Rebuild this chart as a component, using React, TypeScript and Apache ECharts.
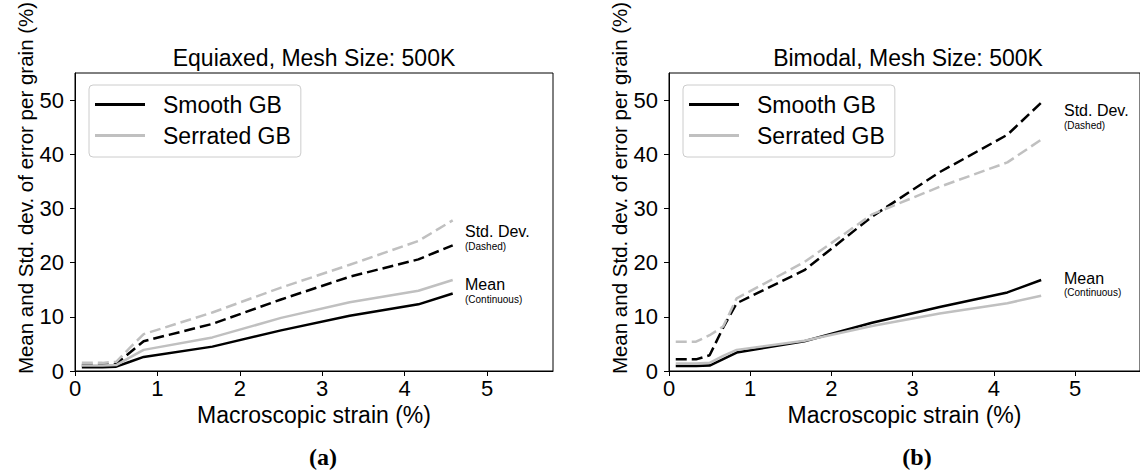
import React, { useEffect, useRef } from "react";
import * as echarts from "echarts";

const strain = [0.083, 0.333, 0.5, 0.667, 0.833, 1.667, 2.5, 3.333, 4.167, 4.583];

const eqSmoothMean = [0.7, 0.7, 0.8, 1.7, 2.6, 4.5, 7.5, 10.2, 12.3, 14.3];
const eqSerratedMean = [1.0, 1.0, 1.1, 2.5, 3.9, 6.2, 9.8, 12.7, 14.8, 16.8];
const eqSmoothStd = [1.1, 1.1, 1.3, 3.4, 5.5, 8.7, 13.2, 17.4, 20.6, 23.2];
const eqSerratedStd = [1.5, 1.5, 1.7, 4.3, 6.8, 10.8, 15.4, 19.6, 24.0, 27.8];

const bmSmoothMean = [0.9, 0.9, 1.0, 2.2, 3.4, 5.5, 8.9, 11.8, 14.5, 16.8];
const bmSerratedMean = [1.4, 1.4, 1.5, 2.8, 3.9, 5.6, 8.3, 10.6, 12.5, 13.9];
const bmSmoothStd = [2.15, 2.15, 2.9, 8.0, 12.5, 18.6, 28.5, 36.7, 43.6, 49.5];
const bmSerratedStd = [5.4, 5.4, 6.6, 8.2, 13.4, 20.1, 28.9, 34.0, 38.5, 42.7];

const xTicks = [0, 1, 2, 3, 4, 5];
const yTicks = [0, 10, 20, 30, 40, 50];

const titles = ["Equiaxed, Mesh Size: 500K", "Bimodal, Mesh Size: 500K"];
const panelTags = ["(a)", "(b)"];
const xName = "Macroscopic strain (%)";
const yName = "Mean and Std. dev. of error per grain (%)";
const legendNames = ["Smooth GB", "Serrated GB"];

const FONT = "'Liberation Sans', Arial, Helvetica, sans-serif";
const BLACK = "#000000";
const GRAY = "#c0c0c0";

const pairs = (ys: number[]) => strain.map((x, i) => [x, ys[i]]);

export default function App() {
  const ref = useRef<HTMLDivElement>(null);
  useEffect(() => {
    if (!ref.current) return;
    const chart = echarts.init(ref.current, undefined, { renderer: "svg" });

    const grids = [
      { left: 75, top: 73, width: 478, height: 298 },
      { left: 669, top: 73, width: 478, height: 298 },
    ];

    const xAxes = grids.map((_, i) => ({
      type: "value",
      gridIndex: i,
      min: 0,
      max: 5.8,
      interval: 1,
      name: xName,
      nameLocation: "middle",
      nameGap: 32,
      nameTextStyle: { fontFamily: FONT, fontSize: 23, color: BLACK },
      axisLine: { show: true, lineStyle: { color: BLACK, width: 1 } },
      axisTick: { show: true, length: 5, inside: false, lineStyle: { color: BLACK }, customValues: xTicks },
      axisLabel: { fontFamily: FONT, fontSize: 22, color: BLACK, margin: 6, customValues: xTicks },
      splitLine: { show: false },
    }));

    const yAxes = grids.map((_, i) => ({
      type: "value",
      gridIndex: i,
      min: 0,
      max: 55,
      interval: 10,
      axisLine: { show: true, lineStyle: { color: BLACK, width: 1 } },
      axisTick: { show: true, length: 5, inside: false, lineStyle: { color: BLACK }, customValues: yTicks },
      axisLabel: { fontFamily: FONT, fontSize: 22, color: BLACK, margin: 11, customValues: yTicks },
      splitLine: { show: false },
    }));

    const mk = (name: string, idx: number, ys: number[], color: string, dashed: boolean) => ({
      type: "line",
      name,
      xAxisIndex: idx,
      yAxisIndex: idx,
      data: pairs(ys),
      symbol: "none",
      showSymbol: false,
      smooth: false,
      lineStyle: { color, width: 2.5, type: dashed ? [11, 5] : "solid", cap: "butt" },
      itemStyle: { color },
      z: dashed ? 2 : 3,
    });

    const series = [
      mk("Smooth GB", 0, eqSmoothMean, BLACK, false),
      mk("Smooth GB std", 0, eqSmoothStd, BLACK, true),
      mk("Serrated GB", 0, eqSerratedMean, GRAY, false),
      mk("Serrated GB std", 0, eqSerratedStd, GRAY, true),
      mk("Smooth GB", 1, bmSmoothMean, BLACK, false),
      mk("Smooth GB std", 1, bmSmoothStd, BLACK, true),
      mk("Serrated GB", 1, bmSerratedMean, GRAY, false),
      mk("Serrated GB std", 1, bmSerratedStd, GRAY, true),
    ];

    const legends = grids.map((g) => ({
      data: legendNames,
      orient: "vertical",
      left: g.left + 14,
      top: 85,
      itemWidth: 50,
      itemHeight: 3,
      itemGap: 8,
      icon: "rect",
      padding: [8, 10, 10, 6],
      borderColor: "#cccccc",
      borderWidth: 1,
      borderRadius: 4,
      backgroundColor: "rgba(255,255,255,0.8)",
      selectedMode: false,
      textStyle: { fontFamily: FONT, fontSize: 23, color: BLACK, padding: [0, 0, 0, 13] },
    }));

    const titleOpts = grids.map((g, i) => ({
      text: titles[i],
      left: g.left + g.width / 2,
      top: 46,
      textAlign: "center",
      padding: 0,
      textStyle: { fontFamily: FONT, fontSize: 23, fontWeight: "normal", color: BLACK },
    }));

    const ann = [
      { std: 231, dashed: 246, mean: 284, cont: 299, left: 465 },
      { std: 110.5, dashed: 125.5, mean: 278.7, cont: 292, left: 1064 },
    ];

    const graphic: any[] = [];
    ann.forEach((a) => {
      graphic.push(
        { type: "text", x: a.left, y: a.std, style: { text: "Std. Dev.", font: `16px ${FONT}`, fill: BLACK, textAlign: "left", textVerticalAlign: "middle" } },
        { type: "text", x: a.left, y: a.dashed, style: { text: "(Dashed)", font: `10px ${FONT}`, fill: BLACK, textAlign: "left", textVerticalAlign: "middle" } },
        { type: "text", x: a.left, y: a.mean, style: { text: "Mean", font: `16px ${FONT}`, fill: BLACK, textAlign: "left", textVerticalAlign: "middle" } },
        { type: "text", x: a.left, y: a.cont, style: { text: "(Continuous)", font: `10px ${FONT}`, fill: BLACK, textAlign: "left", textVerticalAlign: "middle" } }
      );
    });
    [25, 619].forEach((x) => {
      graphic.push({
        type: "text",
        x,
        y: 188,
        rotation: Math.PI / 2,
        style: { text: yName, font: `20.5px ${FONT}`, fill: BLACK, textAlign: "center", textVerticalAlign: "middle" },
      });
    });
    [323, 917].forEach((x, i) => {
      graphic.push({
        type: "text",
        x,
        y: 457,
        style: { text: panelTags[i], font: `bold 24px 'Liberation Serif', 'Times New Roman', serif`, fill: BLACK, textAlign: "center", textVerticalAlign: "middle" },
      });
    });

    chart.setOption({
      animation: false,
      backgroundColor: "#ffffff",
      title: titleOpts,
      legend: legends,
      grid: grids.map((g) => ({ ...g, show: true, borderColor: BLACK, borderWidth: 1, backgroundColor: "transparent", containLabel: false })),
      xAxis: xAxes,
      yAxis: yAxes,
      series,
      graphic,
    });
    return () => chart.dispose();
  }, []);

  return (
    <div
      ref={ref}
      style={{ position: "fixed", left: 0, top: 0, width: 1140, height: 470, overflow: "hidden", background: "#fff" }}
    />
  );
}
